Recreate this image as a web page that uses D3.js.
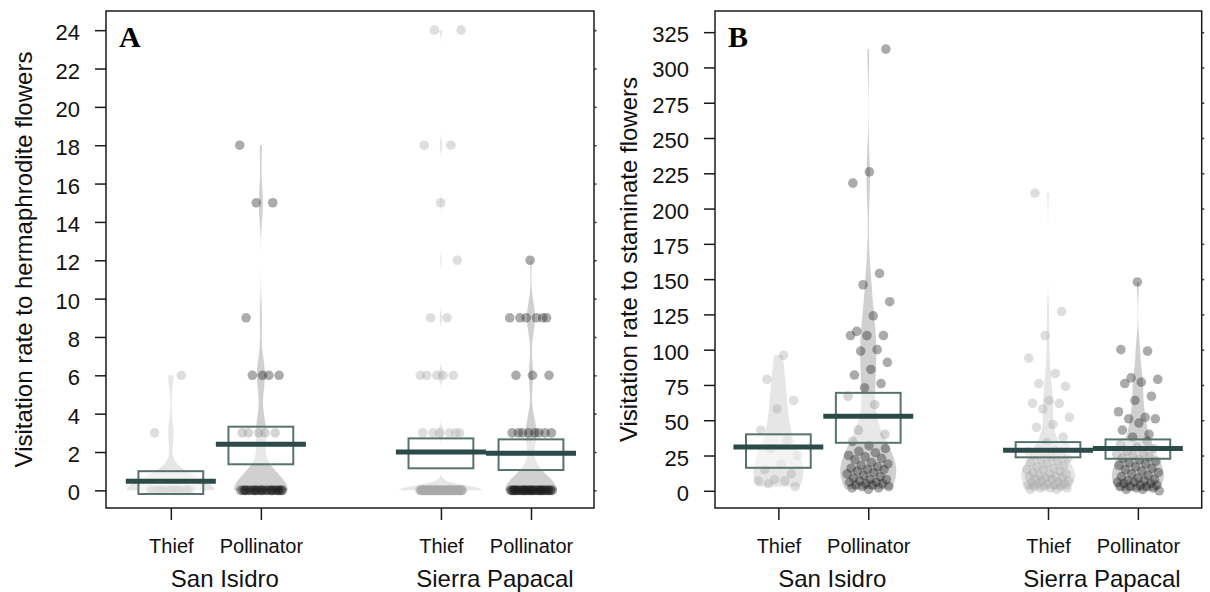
<!DOCTYPE html>
<html><head><meta charset="utf-8">
<script src="https://cdn.jsdelivr.net/npm/d3@7"></script>
<style>body{margin:0;background:#fff}svg{display:block}</style>
</head><body><svg id="c" width="1210" height="592"></svg>
<script>
// ---------------- DATA ----------------
const sites = ["San Isidro", "Sierra Papacal"];
const visitors = ["Thief", "Pollinator"];

// Panel A: visitation rate to hermaphrodite flowers (observed levels and how many points sit on each)
const aSIThiefLevels = [0, 3, 6];
const aSIThiefCounts = [17, 1, 1];
const aSIPollLevels = [0, 3, 6, 9, 15, 18];
const aSIPollCounts = [27, 5, 4, 1, 2, 1];
const aSPThiefLevels = [0, 3, 6, 9, 12, 15, 18, 24];
const aSPThiefCounts = [69, 6, 5, 2, 1, 1, 2, 2];
const aSPPollLevels = [0, 3, 6, 9, 12];
const aSPPollCounts = [38, 8, 3, 6, 1];
const aMeans = [0.48, 2.40, 2.00, 1.93];
const aLow = [-0.19, 1.36, 1.15, 1.06];
const aHigh = [1.00, 3.32, 2.71, 2.66];
const aTicks = [0, 2, 4, 6, 8, 10, 12, 14, 16, 18, 20, 22, 24];

// Panel B: visitation rate to staminate flowers
const bSIThief = [96, 79, 64, 58, 43, 36, 30, 25, 19, 15, 12, 8, 7, 7, 5, 3];
const bSIPoll = [313, 226, 218, 154, 146, 134, 124, 113, 110, 110, 110, 100, 99, 91, 86, 82, 76, 73, 67, 61, 43, 40,
  1, 2, 2, 3, 3, 4, 4, 5, 5, 6, 6, 7, 8, 8, 9, 10, 11, 12, 13, 14, 15, 15, 16, 17, 18, 19, 20, 22, 23, 24, 25, 27, 28, 30, 32, 35];
const bSPThief = [211, 127, 110, 94, 83, 76, 74, 64, 62, 62, 58, 52, 47, 45, 38, 34,
  1, 1, 2, 2, 2, 3, 3, 3, 4, 4, 5, 5, 5, 6, 6, 7, 7, 8, 8, 9, 9, 10, 10, 11, 12, 12, 13, 14, 15, 15, 16, 17, 18, 19, 20, 21, 22, 23, 24, 25, 26, 27, 28, 29, 30, 31];
const bSPPoll = [148, 100, 99, 80, 79, 77, 76, 67, 64, 56, 52, 51, 51, 48, 43, 40, 38,
  0, 1, 1, 2, 2, 3, 3, 3, 4, 4, 5, 5, 6, 6, 7, 7, 8, 9, 10, 11, 12, 13, 14, 15, 16, 17, 18, 19, 20, 21, 22, 23, 24, 25, 26, 27, 28, 30, 31, 33, 35];
const bMeans = [31.0, 52.9, 28.8, 30.0];
const bLow = [16.3, 34.0, 23.7, 22.7];
const bHigh = [40.0, 69.4, 34.5, 36.4];
const bTicks = [0, 25, 50, 75, 100, 125, 150, 175, 200, 225, 250, 275, 300, 325];

// ---------------- HELPERS ----------------
const expand = (levels, counts) => levels.flatMap((v, i) => Array(counts[i]).fill(v));

function kde(values, h, steps) {
  const lo = d3.min(values), hi = d3.max(values);
  const out = [];
  for (let i = 0; i <= steps; i++) {
    const y = lo + (hi - lo) * i / steps;
    let s = 0;
    for (const v of values) { const z = (y - v) / h; s += Math.exp(-0.5 * z * z); }
    out.push({ v: y, d: s });
  }
  return out;
}

// ---------------- STYLE / LAYOUT ----------------
const FONT = "'Liberation Sans', Arial, sans-serif";
const beanFill = ["#e6e6e6", "#d0d0d0"];
const pointFill = ["#a8a8a8", "#1c1c1c"];
const pointOpacity = [0.38, 0.37];
const avgColor = "#2c4a47";
const boxColor = "#56736f";

const panels = [
  {
    letter: "A", title: "Visitation rate to hermaphrodite flowers",
    groups: [expand(aSIThiefLevels, aSIThiefCounts), expand(aSIPollLevels, aSIPollCounts),
             expand(aSPThiefLevels, aSPThiefCounts), expand(aSPPollLevels, aSPPollCounts)],
    means: aMeans, lows: aLow, highs: aHigh, ticks: aTicks,
    bw: [0.7, 0.9, 0.25, 0.8], beanW: [44, 27, 42, 26],
    xr: [106, 594], xd: [0.28, 5.70], yd: [-0.92, 25.0], titleX: 31.5
  },
  {
    letter: "B", title: "Visitation rate to staminate flowers",
    groups: [bSIThief, bSIPoll, bSPThief, bSPPoll],
    means: bMeans, lows: bLow, highs: bHigh, ticks: bTicks,
    bw: [14, 18, 10, 10], beanW: [25, 28, 27, 26],
    xr: [715, 1201.7], xd: [0.295, 5.71], yd: [-12.2, 340], titleX: 637
  }
];

const svg = d3.select("#c");
const TOP = 11, BOTTOM = 508;

panels.forEach((p, pi) => {
  const x = d3.scaleLinear().domain(p.xd).range(p.xr);
  const y = d3.scaleLinear().domain(p.yd).range([BOTTOM, TOP]);
  const g = svg.append("g");
  const pos = gi => Math.floor(gi / 2) * 3 + (gi % 2) + 1;

  p.groups.forEach((vals, gi) => {
    const kind = gi % 2;
    const cx = x(pos(gi));
    // bean
    const dens = kde(vals, p.bw[gi], 300);
    const maxD = d3.max(dens, d => d.d);
    const area = d3.area()
      .y(d => y(d.v))
      .x0(d => cx - d.d / maxD * p.beanW[gi])
      .x1(d => cx + d.d / maxD * p.beanW[gi]);
    g.append("path").attr("d", area(dens)).attr("fill", beanFill[kind]);
    // points (deterministic jitter)
    vals.forEach((v, k) => {
      const j = (((k + 1) * 0.6180339887 + gi * 0.29) % 1 - 0.5) * 2 * 0.24;
      g.append("circle")
        .attr("cx", x(pos(gi) + j)).attr("cy", y(v)).attr("r", 4.8)
        .attr("fill", pointFill[kind]).attr("fill-opacity", pointOpacity[kind]);
    });
    // inference band
    g.append("rect")
      .attr("x", x(pos(gi) - 0.36)).attr("width", x(pos(gi) + 0.36) - x(pos(gi) - 0.36))
      .attr("y", y(p.highs[gi])).attr("height", y(p.lows[gi]) - y(p.highs[gi]))
      .attr("fill", "#fff").attr("fill-opacity", 0.5)
      .attr("stroke", boxColor).attr("stroke-width", 2);
    // average line
    g.append("line")
      .attr("x1", x(pos(gi) - 0.5)).attr("x2", x(pos(gi) + 0.5))
      .attr("y1", y(p.means[gi])).attr("y2", y(p.means[gi]))
      .attr("stroke", avgColor).attr("stroke-width", 5);
  });

  // frame
  g.append("rect").attr("x", p.xr[0]).attr("y", TOP)
    .attr("width", p.xr[1] - p.xr[0]).attr("height", BOTTOM - TOP)
    .attr("fill", "none").attr("stroke", "#1a1a1a").attr("stroke-width", 1.5);

  // y axis
  const yAxis = d3.axisLeft(y).tickValues(p.ticks).tickSize(11).tickPadding(15);
  const ya = g.append("g").attr("transform", `translate(${p.xr[0]},0)`).call(yAxis);
  ya.select(".domain").remove();
  ya.selectAll("line").attr("stroke", "#1a1a1a").attr("stroke-width", 1.5);
  ya.selectAll("text").attr("font-family", FONT).attr("font-size", 22).attr("fill", "#111")
    .attr("dy", "9.5px");
  // small right-side notches
  const yr = d3.axisRight(y).tickValues(p.ticks).tickSize(2.5).tickFormat("");
  const yra = g.append("g").attr("transform", `translate(${p.xr[1]},0)`).call(yr);
  yra.select(".domain").remove();
  yra.selectAll("line").attr("stroke", "#333").attr("stroke-width", 1.5);

  // x ticks and labels
  const cats = [0, 1, 2, 3].map(gi => ({ gi, label: visitors[gi % 2] }));
  const xAxis = d3.axisBottom(x).tickValues(cats.map(c => pos(c.gi)))
    .tickFormat((d, i) => cats[i].label).tickSize(12).tickPadding(20);
  const xa = g.append("g").attr("transform", `translate(0,${BOTTOM})`).call(xAxis);
  xa.select(".domain").remove();
  xa.selectAll("line").attr("stroke", "#1a1a1a").attr("stroke-width", 1.5);
  xa.selectAll("text").attr("font-family", FONT).attr("font-size", 20).attr("fill", "#111")
    .attr("dy", null).attr("y", 45);

  // site labels
  sites.forEach((s, si) => {
    g.append("text").attr("x", x(si * 3 + 1.6)).attr("y", 586.5)
      .attr("text-anchor", "middle").attr("font-family", FONT).attr("font-size", 24)
      .attr("fill", "#111").text(s);
  });

  // y title
  g.append("text")
    .attr("transform", `translate(${p.titleX},${(TOP + BOTTOM) / 2}) rotate(-90)`)
    .attr("text-anchor", "middle").attr("font-family", FONT).attr("font-size", 24)
    .attr("fill", "#111").text(p.title);

  // panel letter
  g.append("text").attr("x", p.xr[0] + 13).attr("y", 46.5)
    .attr("font-family", "'Liberation Serif', 'Times New Roman', serif")
    .attr("font-weight", "bold").attr("font-size", 30).attr("fill", "#000").text(p.letter);
});
</script></body></html>
